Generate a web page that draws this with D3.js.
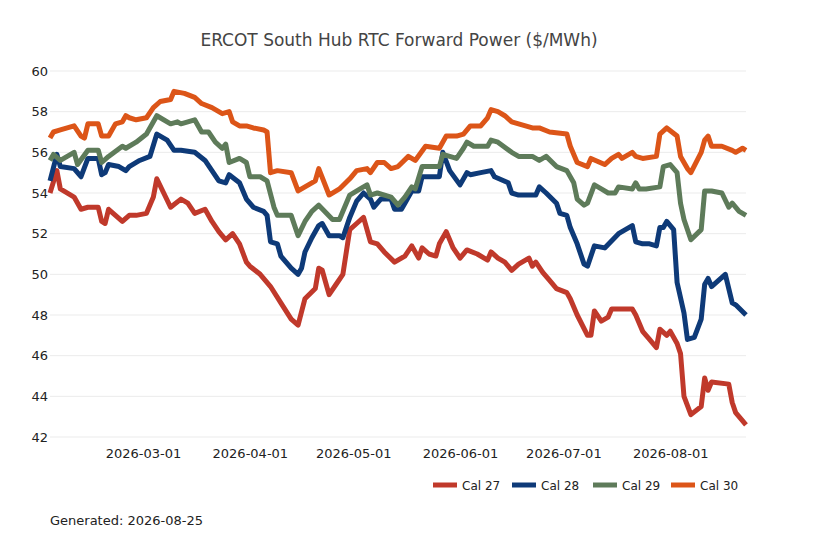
<!DOCTYPE html>
<html><head><meta charset="utf-8">
<script src="https://cdn.jsdelivr.net/npm/d3@7"></script>
<style>body{margin:0;background:#fff;font-family:"DejaVu Sans",sans-serif;}</style>
</head><body><svg id="c" width="818" height="545"></svg>
<script>
const startDate = "2026-02-02";
const xTickLabels = ["2026-03-01","2026-04-01","2026-05-01","2026-06-01","2026-07-01","2026-08-01"];
const yTicks = [42,44,46,48,50,52,54,56,58,60];
const seriesNames = ["Cal 27","Cal 28","Cal 29","Cal 30"];
const seriesColors = ["#c0392b","#0e3a78","#5e7b5a","#dc5518"];

const cal27Days = [0,2,3,7,9,11,14,15,16,17,21,23,25,28,30,31,33,35,38,40,42,45,47,49,51,53,55,57,58,61,64,67,70,72,74,77,78,79,81,83,85,87,89,91,93,95,97,100,103,105,107,108,110,112,113,115,117,119,121,124,127,128,130,132,134,136,139,140,141,143,145,147,150,151,153,156,157,158,160,162,163,166,169,170,172,174,176,177,179,180,182,183,184,186,189,190,191,192,197,198,199,202];
const cal27Values = [54.0,55.1,54.2,53.8,53.2,53.3,53.3,52.6,52.5,53.2,52.6,52.9,52.9,53.0,53.8,54.7,54.0,53.3,53.7,53.5,53.0,53.2,52.6,52.1,51.7,52.0,51.5,50.6,50.4,50.0,49.4,48.6,47.8,47.5,48.8,49.3,50.3,50.2,49.0,49.5,50.0,52.2,52.5,52.8,51.6,51.5,51.1,50.6,50.9,51.4,50.8,51.3,51.0,50.9,51.5,52.1,51.3,50.8,51.2,51.0,50.7,51.1,50.8,50.6,50.2,50.5,50.8,50.4,50.6,50.1,49.7,49.3,49.1,48.8,48.0,47.0,47.0,48.2,47.7,47.9,48.3,48.3,48.3,48.0,47.2,46.8,46.4,47.3,47.0,47.2,46.6,46.1,44.0,43.1,43.5,44.9,44.3,44.7,44.6,43.7,43.2,42.6];

const cal28Days = [0,2,3,7,9,11,14,15,16,17,20,22,23,26,29,31,34,36,38,42,45,47,49,51,52,55,57,59,62,63,64,66,67,70,72,73,74,76,78,79,81,84,85,87,89,91,93,94,96,99,100,102,103,105,107,108,113,114,116,119,121,122,125,128,129,133,134,136,141,142,144,147,148,150,151,153,155,156,158,161,165,169,170,172,174,176,177,178,179,181,182,184,185,187,189,190,191,192,196,198,199,202];
const cal28Values = [54.6,55.9,55.3,55.2,54.8,55.7,55.7,54.9,55.0,55.4,55.3,55.1,55.3,55.6,55.8,56.9,56.6,56.1,56.1,56.0,55.6,55.1,54.6,54.5,54.9,54.5,53.7,53.3,53.1,52.9,51.6,51.5,50.9,50.3,50.0,50.3,51.1,51.8,52.4,52.5,51.9,51.9,51.8,52.8,53.6,54.0,53.7,53.3,53.7,53.7,53.2,53.2,53.5,54.1,54.1,54.8,54.8,56.0,55.1,54.4,55.0,54.9,55.0,55.1,54.8,54.5,54.0,53.9,53.9,54.3,54.0,53.5,53.0,52.9,52.3,51.5,50.5,50.4,51.4,51.3,52.0,52.4,51.6,51.5,51.5,51.4,52.3,52.3,52.6,52.2,49.6,48.1,46.8,46.9,47.8,49.5,49.8,49.4,50.0,48.6,48.5,48.0];

const cal29Days = [0,1,3,7,8,11,14,15,17,21,22,25,28,31,35,37,38,42,44,46,48,50,51,52,55,57,58,61,63,65,66,70,72,74,76,78,82,84,87,90,92,93,95,99,101,103,105,106,108,113,114,118,120,121,123,127,128,130,134,136,140,142,144,147,150,152,153,155,156,158,160,162,164,165,169,170,171,173,177,178,180,182,183,184,186,189,190,192,195,197,198,200,202];
const cal29Values = [55.6,55.9,55.6,56.0,55.4,56.1,56.1,55.5,55.8,56.3,56.2,56.5,56.9,57.8,57.4,57.5,57.4,57.6,57.0,57.0,56.5,56.2,56.4,55.5,55.7,55.5,54.8,54.8,54.6,53.3,52.9,52.9,51.9,52.6,53.1,53.4,52.7,52.7,53.9,54.2,54.4,53.9,54.0,53.8,53.4,53.8,54.3,54.2,55.3,55.3,55.9,55.7,56.2,56.5,56.3,56.3,56.6,56.5,56.0,55.8,55.8,55.6,55.8,55.3,55.1,54.5,53.7,53.4,53.5,54.4,54.2,54.0,54.0,54.3,54.2,54.5,54.2,54.2,54.3,55.3,55.4,55.0,53.5,52.7,51.7,52.2,54.1,54.1,54.0,53.3,53.5,53.1,52.9];

const cal30Days = [0,1,3,7,9,10,11,14,15,17,19,21,22,23,25,28,30,32,35,36,39,42,44,47,50,52,53,55,57,59,62,63,64,66,70,72,74,77,78,81,84,87,89,92,93,95,97,99,101,104,106,109,113,115,118,120,122,125,127,128,130,132,134,136,140,142,145,150,151,153,156,157,161,163,165,166,169,170,172,176,177,179,182,183,185,186,189,190,191,192,195,198,199,201,202];
const cal30Values = [56.7,57.0,57.1,57.3,56.8,56.7,57.4,57.4,56.8,56.8,57.4,57.5,57.8,57.7,57.6,57.7,58.2,58.5,58.6,59.0,58.9,58.7,58.4,58.2,57.9,58.0,57.5,57.3,57.3,57.2,57.1,57.0,55.0,55.1,55.0,54.1,54.3,54.6,55.2,53.9,54.2,54.7,55.1,55.2,55.0,55.5,55.5,55.2,55.3,55.8,55.6,56.3,56.2,56.8,56.8,56.9,57.3,57.3,57.7,58.1,58.0,57.8,57.5,57.4,57.2,57.2,57.0,56.9,56.3,55.5,55.3,55.7,55.4,55.7,55.9,55.7,56.0,55.8,55.7,55.8,56.9,57.2,56.8,55.8,55.2,55.0,56.0,56.6,56.8,56.3,56.3,56.1,56.0,56.2,56.1];

const parse = d3.timeParse("%Y-%m-%d");
const start = parse(startDate);
const mk = (days, vals) => days.map((d,i)=>({date:d3.timeDay.offset(start,d), v:vals[i]}));
const series = [mk(cal27Days,cal27Values),mk(cal28Days,cal28Values),mk(cal29Days,cal29Values),mk(cal30Days,cal30Values)];

const svg = d3.select("#c");
const x = d3.scaleTime().domain([start, d3.timeDay.offset(start,202)]).range([50,746]);
const y = d3.scaleLinear().domain([42,60]).range([437,71]);

svg.append("g").selectAll("line").data(yTicks).join("line")
  .attr("x1",50).attr("x2",746).attr("y1",d=>y(d)).attr("y2",d=>y(d))
  .attr("stroke","#ebebeb").attr("stroke-width",1);

const ya = svg.append("g").attr("transform","translate(50,0)")
  .call(d3.axisLeft(y).tickValues(yTicks).tickSize(0).tickPadding(2));
ya.select(".domain").remove();
ya.selectAll("text").attr("font-size",13).attr("fill","#222").attr("font-family","DejaVu Sans");

const xa = svg.append("g").attr("transform","translate(0,441)")
  .call(d3.axisBottom(x).tickValues(xTickLabels.map(parse)).tickFormat(d3.timeFormat("%Y-%m-%d")).tickSize(0).tickPadding(8));
xa.select(".domain").remove();
xa.selectAll("text").attr("font-size",13).attr("fill","#222").attr("font-family","DejaVu Sans");

const line = d3.line().x(d=>x(d.date)).y(d=>y(d.v)).curve(d3.curveLinear);
series.forEach((s,i)=>{
  svg.append("path").datum(s).attr("d",line).attr("fill","none")
    .attr("stroke",seriesColors[i]).attr("stroke-width",5).attr("stroke-linejoin","round");
});

svg.append("text").attr("x",399).attr("y",46).attr("text-anchor","middle")
  .attr("font-size",17).attr("fill","#444").text("ERCOT South Hub RTC Forward Power ($/MWh)");

const legX = [433,512,593,671];
seriesNames.forEach((n,i)=>{
  svg.append("line").attr("x1",legX[i]).attr("x2",legX[i]+24).attr("y1",485).attr("y2",485)
    .attr("stroke",seriesColors[i]).attr("stroke-width",5);
  svg.append("text").attr("x",legX[i]+29).attr("y",490).attr("font-size",12).attr("fill","#222").text(n);
});

svg.append("text").attr("x",50).attr("y",525).attr("font-size",13).attr("fill","#222").text("Generated: 2026-08-25");
</script></body></html>
